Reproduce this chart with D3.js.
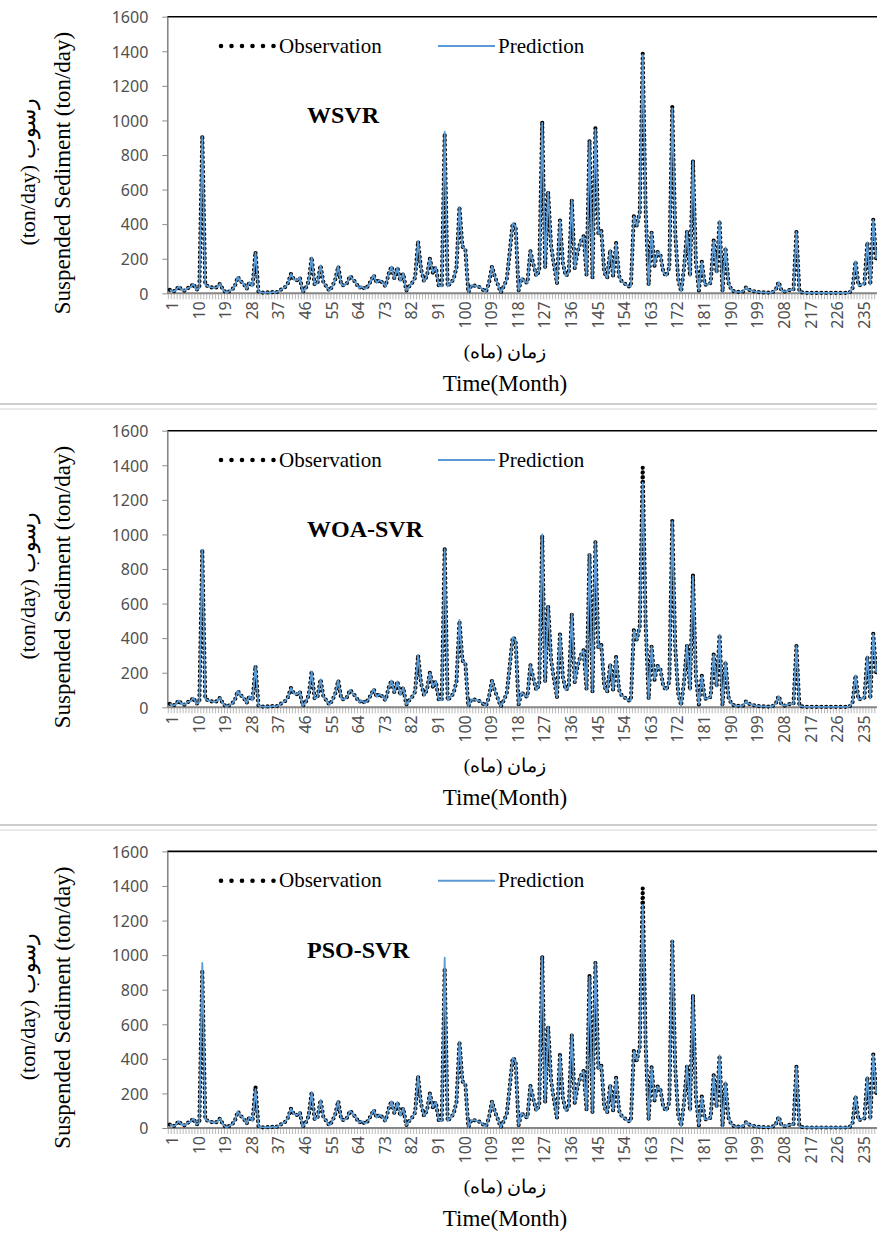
<!DOCTYPE html>
<html>
<head>
<meta charset="utf-8">
<script src="https://cdn.jsdelivr.net/npm/d3@7"></script>
<style>
  body { margin: 0; background: #fff; }
  svg { display: block; }
  .tick text { font-family: "Noto Sans", sans-serif; font-size: 16px; fill: #505050; }
  .serif { font-family: "Liberation Serif", "Times New Roman", serif; fill: #000; }
</style>
</head>
<body>
<svg id="chart" width="877" height="1234"></svg>
<script>
// months 1..240
const months = d3.range(1, 241);
const xTickLabels = [1, 10, 19, 28, 37, 46, 55, 64, 73, 82, 91, 100, 109, 118, 127, 136, 145, 154, 163, 172, 181, 190, 199, 208, 217, 226, 235];
const yTickValues = [0, 200, 400, 600, 800, 1000, 1200, 1400, 1600];
const modelNames = ["WSVR", "WOA-SVR", "PSO-SVR"];

const observation = [
  20,10,15,40,20,15,30,35,55,20,30,914,50,40,35,30,35,55,20,5,
  10,20,40,95,70,55,25,65,40,240,10,5,3,5,3,8,5,15,25,35,
  60,112,80,75,90,8,30,70,208,50,60,162,60,40,15,40,80,155,50,45,
  60,100,80,60,30,40,25,40,70,105,60,78,60,40,110,155,85,150,70,115,
  15,40,60,90,300,140,70,100,200,120,150,45,40,925,40,60,80,150,500,270,
  255,5,45,45,40,35,20,10,60,155,95,50,5,40,80,235,405,390,15,88,
  68,60,245,168,100,130,995,150,585,275,160,58,422,172,100,120,540,145,240,300,
  330,105,885,90,957,345,360,120,90,250,100,290,100,65,55,40,40,445,390,470,
  1386,480,50,352,160,240,220,120,100,150,1080,350,80,10,150,360,100,770,180,15,
  182,50,50,60,305,120,420,10,265,60,20,10,8,10,10,35,20,15,10,8,
  5,5,4,4,8,20,65,15,10,15,20,20,355,10,5,3,3,3,3,3,
  3,3,3,3,3,3,3,3,3,3,5,30,185,45,50,55,295,50,425,200
];

const predWSVR = [
  20,10,15,40,20,15,30,35,55,20,30,905,50,40,35,30,35,55,20,5,
  10,20,40,95,70,55,25,65,40,235,10,5,3,5,3,8,5,15,25,35,
  60,112,80,75,90,8,30,70,208,50,60,162,60,40,15,40,80,155,50,45,
  60,100,80,60,30,40,25,40,70,105,60,78,60,40,110,155,85,150,70,115,
  15,40,60,90,300,140,70,100,200,120,150,45,40,935,40,60,80,150,500,270,
  255,5,45,45,40,35,20,10,60,155,95,50,5,40,80,235,405,390,15,88,
  68,60,245,168,100,130,985,150,585,275,160,58,422,172,100,120,540,145,240,300,
  330,105,880,90,950,345,360,120,90,250,100,290,100,65,55,40,40,445,390,470,
  1380,480,50,352,160,240,220,120,100,150,1070,350,80,10,150,360,100,765,180,15,
  182,50,50,60,305,120,420,10,265,60,20,10,8,10,10,35,20,15,10,8,
  5,5,4,4,8,20,65,15,10,15,20,20,355,10,5,3,3,3,3,3,
  3,3,3,3,3,3,3,3,3,3,5,30,185,45,50,55,295,50,425,200
];

const predWOA = [
  20,10,15,40,20,15,30,35,55,20,30,910,50,40,35,30,35,55,20,5,
  10,20,40,95,70,55,25,65,40,240,10,5,3,5,3,8,5,15,25,35,
  60,112,80,75,90,8,30,70,208,50,60,162,60,40,15,40,80,155,50,45,
  60,100,80,60,30,40,25,40,70,105,60,78,60,40,110,155,85,150,70,115,
  15,40,60,90,300,140,70,100,200,120,150,45,40,915,40,60,80,150,505,270,
  255,5,45,45,40,35,20,10,60,155,95,50,5,40,80,235,405,390,15,88,
  68,60,245,168,100,130,1000,150,585,275,160,58,422,172,100,120,540,145,240,300,
  330,105,885,90,957,345,360,120,90,250,100,290,100,65,55,40,40,445,390,470,
  1300,480,50,352,160,240,220,120,100,150,1075,350,80,10,150,360,100,760,180,15,
  182,50,50,60,305,120,420,10,265,60,20,10,8,10,10,35,20,15,10,8,
  5,5,4,4,8,20,65,15,10,15,20,20,355,10,5,3,3,3,3,3,
  3,3,3,3,3,3,3,3,3,3,5,30,185,45,50,55,295,50,425,200
];

const predPSO = [
  20,10,15,40,20,15,30,35,55,20,30,955,50,40,35,30,35,55,20,5,
  10,20,40,95,70,55,25,65,40,225,10,5,3,5,3,8,5,15,25,35,
  60,112,80,75,90,8,30,70,208,50,60,162,60,40,15,40,80,155,50,45,
  60,100,80,60,30,40,25,40,70,105,60,78,60,40,110,155,85,150,70,115,
  15,40,60,90,300,140,70,100,200,120,150,45,40,985,40,60,80,150,500,270,
  255,5,45,45,40,35,20,10,60,155,95,50,5,40,80,235,405,390,15,88,
  68,60,245,168,100,130,990,150,585,275,160,58,422,172,100,120,540,145,240,300,
  330,105,875,90,957,345,360,120,90,250,100,290,100,65,55,40,40,445,390,470,
  1290,480,50,352,160,240,220,120,100,150,1085,350,80,10,150,360,100,770,180,15,
  182,50,50,60,305,120,420,10,265,60,20,10,8,10,10,35,20,15,10,8,
  5,5,4,4,8,20,65,15,10,15,20,20,355,10,5,3,3,3,3,3,
  3,3,3,3,3,3,3,3,3,3,5,30,185,45,50,55,295,50,425,200
];

const predictions = [predWSVR, predWOA, predPSO];

const svg = d3.select("#chart");
svg.append("rect").attr("width", 877).attr("height", 1234).attr("fill", "#fff");

// panel vertical offsets
const panelOffsets = [0, 414, 834.7];

// shared geometry (relative to panel)
const axisX = 167.3;
const plotTop = 16.7;
const plotBottom = 293.3;

const x = d3.scaleBand().domain(months).range([168.3, 877.7]).padding(0);
const cx = (m) => x(m) + x.bandwidth() / 2;
const y = d3.scaleLinear().domain([0, 1600]).range([plotBottom, plotTop]);

function drawPanel(i) {
  const pred = predictions[i];
  const g = svg.append("g").attr("transform", `translate(0, ${panelOffsets[i]})`);

  // top border of plot area
  g.append("line")
    .attr("x1", axisX).attr("x2", 877)
    .attr("y1", plotTop).attr("y2", plotTop)
    .attr("stroke", "#000").attr("stroke-width", 1.6);

  // y axis
  const yAxis = g.append("g")
    .attr("transform", `translate(${axisX},0)`)
    .call(
      d3.axisLeft(y)
        .tickValues(yTickValues)
        .tickFormat(d3.format("d"))
        .tickSize(5)
        .tickSizeOuter(0)
        .tickPadding(14)
    );
  yAxis.select(".domain").attr("stroke", "#7f7f7f").attr("stroke-width", 1.5);
  yAxis.selectAll(".tick line").attr("stroke", "#8c8c8c");
  yAxis.selectAll(".tick text").attr("dy", "0.36em");

  // x axis minor ticks (one per month)
  g.selectAll(".mtick")
    .data(months.concat([241]))
    .enter()
    .append("line")
    .attr("class", "mtick")
    .attr("x1", (m) => (m <= 240 ? x(m) : x(240) + x.bandwidth()))
    .attr("x2", (m) => (m <= 240 ? x(m) : x(240) + x.bandwidth()))
    .attr("y1", plotBottom)
    .attr("y2", plotBottom + 6)
    .attr("stroke", "#a6a6a6")
    .attr("stroke-width", 0.8);

  // x axis line
  g.append("line")
    .attr("x1", axisX).attr("x2", 877)
    .attr("y1", y(0)).attr("y2", y(0))
    .attr("stroke", "#868686").attr("stroke-width", 2);

  // x tick labels, rotated
  g.selectAll(".xlab")
    .data(xTickLabels)
    .enter()
    .append("text")
    .attr("class", "xlab")
    .attr("transform", (d) => `translate(${cx(d) + 2.5}, ${plotBottom + 8}) rotate(-90)`)
    .attr("text-anchor", "end")
    .attr("dy", "0.36em")
    .style("font-family", '"Noto Sans", sans-serif')
    .style("font-size", "16px")
    .attr("fill", "#505050")
    .text((d) => d);

  // observation: dotted black line
  const line = d3.line().x((d, j) => cx(months[j])).y((d) => y(d));
  g.append("path")
    .datum(observation)
    .attr("d", line)
    .attr("fill", "none")
    .attr("stroke", "#000")
    .attr("stroke-width", 4.2)
    .attr("stroke-linecap", "round")
    .attr("stroke-dasharray", "0 4.8");

  // prediction: solid blue line
  g.append("path")
    .datum(pred)
    .attr("d", line)
    .attr("fill", "none")
    .attr("stroke", "#5b9bd5")
    .attr("stroke-width", 1.8)
    .attr("stroke-linejoin", "round");

  // legend
  g.append("line")
    .attr("x1", 221).attr("x2", 274)
    .attr("y1", 46).attr("y2", 46)
    .attr("stroke", "#000").attr("stroke-width", 4.6)
    .attr("stroke-linecap", "round")
    .attr("stroke-dasharray", "0 10.5");
  g.append("text").attr("class", "serif")
    .attr("x", 279).attr("y", 52.5)
    .style("font-size", "21px")
    .text("Observation");
  g.append("line")
    .attr("x1", 438).attr("x2", 495)
    .attr("y1", 46).attr("y2", 46)
    .attr("stroke", "#5b9bd5").attr("stroke-width", 2);
  g.append("text").attr("class", "serif")
    .attr("x", 498).attr("y", 52.5)
    .style("font-size", "21px")
    .text("Prediction");

  // model title
  g.append("text").attr("class", "serif")
    .attr("x", 307).attr("y", 123)
    .style("font-size", "24px")
    .style("font-weight", "bold")
    .text(modelNames[i]);

  // y axis titles
  g.append("text").attr("class", "serif")
    .attr("transform", "translate(62, 173) rotate(-90)")
    .attr("text-anchor", "middle")
    .attr("dy", "0.35em")
    .style("font-size", "23px")
    .text("Suspended Sediment (ton/day)");
  g.append("text").attr("class", "serif")
    .attr("transform", "translate(27, 172) rotate(-90)")
    .attr("text-anchor", "middle")
    .attr("dy", "0.35em")
    .attr("direction", "ltr")
    .style("font-size", "22px")
    .text("(ton/day) رسوب");

  // x axis titles
  g.append("text").attr("class", "serif")
    .attr("x", 505).attr("y", 358)
    .attr("text-anchor", "middle")
    .style("font-size", "19px")
    .text("زمان (ماه)");
  g.append("text").attr("class", "serif")
    .attr("x", 505).attr("y", 391)
    .attr("text-anchor", "middle")
    .style("font-size", "23px")
    .text("Time(Month)");
}

modelNames.forEach((name, i) => drawPanel(i));

// separators between panels
[404, 825].forEach((sy) => {
  svg.append("line")
    .attr("x1", 0).attr("x2", 877)
    .attr("y1", sy).attr("y2", sy)
    .attr("stroke", "#bdbdbd").attr("stroke-width", 1.5);
  svg.append("line")
    .attr("x1", 0).attr("x2", 877)
    .attr("y1", sy + 5).attr("y2", sy + 5)
    .attr("stroke", "#d4d4d4").attr("stroke-width", 1);
});
</script>
</body>
</html>
